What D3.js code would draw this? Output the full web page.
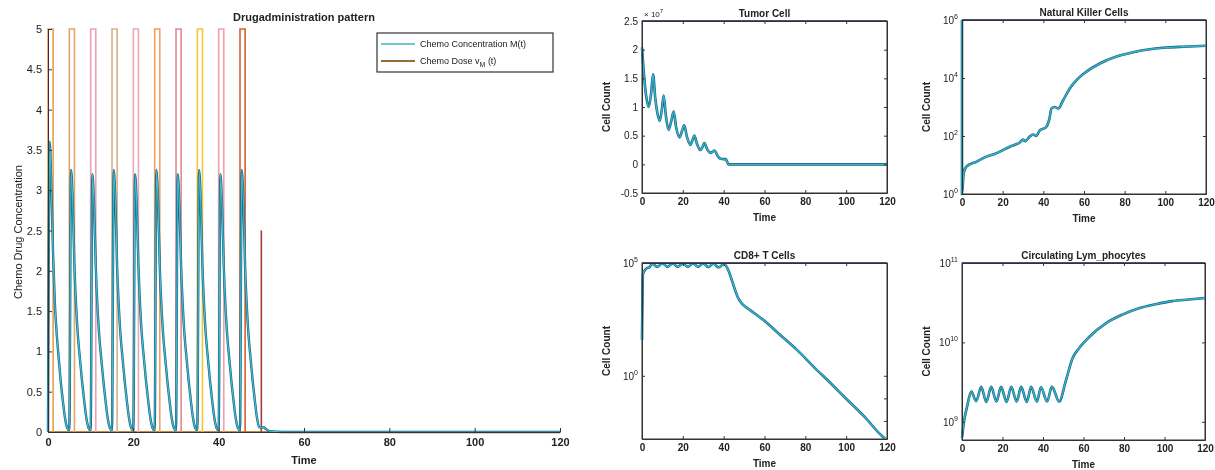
<!DOCTYPE html>
<html>
<head>
<meta charset="utf-8">
<script src="https://cdn.jsdelivr.net/npm/d3@7"></script>
<style>
body { margin: 0; background: #fff; }
text { font-family: "Liberation Sans", Arial, sans-serif; fill: #222; }
</style>
</head>
<body>
<script>
// ---- left panel: drug administration ----
var doseStart = [0, 5, 10, 15, 20, 25, 30, 35, 40, 45, 50];
var doseLevel = [5, 5, 5, 5, 5, 5, 5, 5, 5, 5, 2.5];
var doseWidth = [1.2, 1.2, 1.2, 1.2, 1.2, 1.2, 1.2, 1.2, 1.2, 1.2, 0];
var doseColors = ["#e8a050", "#e0a868", "#ef9fb0", "#d8b088", "#e8aab0",
                  "#f0a060", "#e08a90", "#eec838", "#f0a0a8", "#d8602c", "#a83a3a"];

var concTime = [0, 0.4, 0.8, 1.2, 1.6, 2, 2.5, 3, 3.5, 4, 4.5,
  5, 5.4, 5.8, 6.2, 6.6, 7, 7.5, 8, 8.5, 9, 9.5,
  10, 10.4, 10.8, 11.2, 11.6, 12, 12.5, 13, 13.5, 14, 14.5,
  15, 15.4, 15.8, 16.2, 16.6, 17, 17.5, 18, 18.5, 19, 19.5,
  20, 20.4, 20.8, 21.2, 21.6, 22, 22.5, 23, 23.5, 24, 24.5,
  25, 25.4, 25.8, 26.2, 26.6, 27, 27.5, 28, 28.5, 29, 29.5,
  30, 30.4, 30.8, 31.2, 31.6, 32, 32.5, 33, 33.5, 34, 34.5,
  35, 35.4, 35.8, 36.2, 36.6, 37, 37.5, 38, 38.5, 39, 39.5,
  40, 40.4, 40.8, 41.2, 41.6, 42, 42.5, 43, 43.5, 44, 44.5,
  45, 45.4, 45.8, 46.2, 46.6, 47, 47.5, 48, 48.5, 49, 49.5,
  50, 50.5, 51, 52, 55, 120];
var concValue = [0, 3.6, 3.0, 2.2, 1.6, 1.25, 0.92, 0.62, 0.38, 0.17, 0.05,
  0.02, 3.25, 2.85, 2.05, 1.55, 1.2, 0.9, 0.62, 0.38, 0.17, 0.05,
  0.02, 3.2, 2.8, 2.05, 1.55, 1.2, 0.9, 0.62, 0.38, 0.17, 0.05,
  0.02, 3.25, 2.85, 2.05, 1.55, 1.2, 0.9, 0.62, 0.38, 0.17, 0.05,
  0.02, 3.2, 2.8, 2.05, 1.55, 1.2, 0.9, 0.62, 0.38, 0.17, 0.05,
  0.02, 3.25, 2.85, 2.05, 1.55, 1.2, 0.9, 0.62, 0.38, 0.17, 0.05,
  0.02, 3.2, 2.8, 2.05, 1.55, 1.2, 0.9, 0.62, 0.38, 0.17, 0.05,
  0.02, 3.25, 2.85, 2.05, 1.55, 1.2, 0.9, 0.62, 0.38, 0.17, 0.05,
  0.02, 3.2, 2.8, 2.05, 1.55, 1.2, 0.9, 0.62, 0.38, 0.17, 0.05,
  0.02, 3.25, 2.85, 2.05, 1.55, 1.2, 0.9, 0.62, 0.38, 0.17, 0.06,
  0.05, 0.06, 0.04, 0.01, 0, 0];
var drugYTicks = [0, 0.5, 1, 1.5, 2, 2.5, 3, 3.5, 4, 4.5, 5];
var timeTicks = [0, 20, 40, 60, 80, 100, 120];

// ---- tumor cells (x 10^7) ----
var tumorTime = [0, 1, 2, 3.3, 4.5, 5.4, 6.5, 7.5, 8.7, 9.7, 10.6, 11.7, 13, 14.3, 15.5, 16.7,
  18.4, 19.6, 20.7, 22, 23.7, 24.7, 25.6, 27, 28.6, 29.6, 30.5, 32, 33.5, 34.6, 35.6, 37,
  38.3, 40, 41, 42.4, 60, 80, 100, 120];
var tumorValue = [2.04, 1.55, 1.2, 1.0, 1.25, 1.57, 1.15, 0.9, 0.76, 0.95, 1.2, 0.85, 0.6, 0.75, 0.92, 0.65,
  0.47, 0.58, 0.68, 0.48, 0.34, 0.42, 0.5, 0.35, 0.25, 0.3, 0.37, 0.26, 0.2, 0.22, 0.24, 0.15,
  0.1, 0.09, 0.09, 0, 0, 0, 0, 0];
var tumorYTicks = [-0.5, 0, 0.5, 1, 1.5, 2, 2.5];

// ---- natural killer cells ----
var nkTime = [0, 0, 0.8, 2.1, 7, 12, 16, 18.6, 21, 23.5, 26, 28.4, 30, 31, 33.3, 35, 36.5, 38.3,
  40, 41.5, 43, 44, 45.6, 47.3, 49.8, 53, 56.3, 61.2, 67.8, 76, 84.2, 92.4, 100.7, 108.9, 120];
var nkValue = [1e6, 1, 5.1, 8.7, 12.9, 19.5, 24, 28.8, 35.5, 42.7, 50, 60, 76, 66, 95, 112, 100, 158,
  178, 209, 398, 891, 1000, 891, 1740, 4370, 8510, 16600, 31600, 55000, 77600, 97700, 112000, 120000, 129000];
var nkYTicks = [1, 100, 1e4, 1e6];

// ---- CD8+ T cells ----
var cd8Time = [0, 0.5, 2.1, 3.8, 5, 7.5, 10, 12.5, 15, 17.5, 20, 22.5, 25, 27.5, 30, 32.5, 35, 37.5,
  40, 41, 42.3, 44, 45.6, 47.2, 49.7, 53, 59.5, 67.7, 75.9, 84, 92.3, 100.5, 108.7, 117.7, 119.3];
var cd8Value = [40, 33900, 56200, 66100, 93300, 67600, 95500, 67600, 95500, 67600, 95500, 67600, 95500,
  67600, 95500, 66100, 93300, 63100, 89100, 79400, 47900, 17400, 6310, 2690, 1350, 813, 295, 64.6,
  14.1, 2.57, 0.479, 0.0871, 0.0162, 0.00209, 0.00158];
var cd8YTicks = [1, 1e5];

// ---- circulating lymphocytes ----
var lymTime = [0, 1.1, 2.5, 4.6, 7, 9.5, 12, 14.4, 17, 19.3, 22, 24.3, 27, 29.2, 32, 34.1, 37, 39,
  42, 44.4, 48, 51.3, 54.6, 57.9, 62.8, 71, 79.2, 87.4, 95.6, 103.8, 112, 120];
var lymValue = [6.31e8, 1.05e9, 1.55e9, 2.4e9, 1.82e9, 2.75e9, 1.78e9, 2.75e9, 1.8e9, 2.75e9, 1.78e9,
  2.75e9, 1.8e9, 2.75e9, 1.78e9, 2.75e9, 1.8e9, 2.72e9, 1.8e9, 2.75e9, 1.8e9, 3.31e9, 6.31e9, 8.51e9,
  1.17e10, 1.74e10, 2.24e10, 2.69e10, 3.02e10, 3.31e10, 3.47e10, 3.63e10];
var lymYTicks = [1e9, 1e10, 1e11];

var svg = d3.select("body").append("svg")
  .attr("width", 1215).attr("height", 470);
svg.append("defs").append("filter").attr("id", "soft")
  .attr("filterUnits", "userSpaceOnUse")
  .attr("x", 0).attr("y", 0).attr("width", 1215).attr("height", 470)
  .append("feGaussianBlur").attr("stdDeviation", 0.6);
var root = svg.append("g").attr("filter", "url(#soft)");
root.append("rect").attr("width", 1215).attr("height", 470).attr("fill", "#fff");

function plainNum(d) { return String(d); }

function styleAxis(g) {
  g.select(".domain").attr("stroke", "#333");
  g.selectAll(".tick line").attr("stroke", "#333");
  g.selectAll("text").attr("font-size", 10).attr("fill", "#222");
}

function powLabel(g, fontSize) {
  g.selectAll(".tick text").each(function(d) {
    var t = d3.select(this);
    var e = Math.round(Math.log10(d));
    t.text("10");
    t.append("tspan").attr("dy", -5).attr("font-size", fontSize - 3).text(e);
  });
}

// ================= left panel =================
var dx = d3.scaleLinear().domain([0, 120]).range([48, 560]);
var dy = d3.scaleLinear().domain([0, 5]).range([432, 29]);
var left = root.append("g");

// dose zero level along the whole time span
left.append("path")
  .attr("d", d3.line()([[dx(0), dy(0)], [dx(120), dy(0)]]))
  .attr("stroke", "#c08a40").attr("stroke-width", 2).attr("fill", "none");

// dose pulses
doseStart.forEach(function(t, i) {
  var pts = [[t, 0], [t, doseLevel[i]], [t + doseWidth[i], doseLevel[i]], [t + doseWidth[i], 0]];
  left.append("path")
    .attr("d", d3.line().x(function(p) { return dx(p[0]); }).y(function(p) { return dy(p[1]); })(pts))
    .attr("fill", "none").attr("stroke", doseColors[i]).attr("stroke-width", 1.6);
});

// chemo concentration
var concLine = d3.line()
  .x(function(d, i) { return dx(concTime[i]); })
  .y(function(d) { return dy(d); })
  .curve(d3.curveMonotoneX);
left.append("path").attr("d", concLine(concValue))
  .attr("fill", "none").attr("stroke", "#1d5f86").attr("stroke-width", 2.4);
left.append("path").attr("d", concLine(concValue))
  .attr("fill", "none").attr("stroke", "#3cc0cc").attr("stroke-width", 1.2);

var lx = left.append("g").attr("transform", "translate(0," + dy(0) + ")")
  .call(d3.axisBottom(dx).tickValues(timeTicks).tickSizeInner(-4).tickSizeOuter(0).tickPadding(6));
styleAxis(lx);
lx.selectAll("text").attr("font-size", 11).attr("font-weight", "bold").attr("fill", "#333");
var ly = left.append("g").attr("transform", "translate(" + dx(0) + ",0)")
  .call(d3.axisLeft(dy).tickValues(drugYTicks).tickSizeInner(-4).tickSizeOuter(0).tickPadding(6)
    .tickFormat(plainNum));
styleAxis(ly);
ly.selectAll("text").attr("font-size", 11).attr("fill", "#333");

left.append("text").attr("x", 304).attr("y", 21).attr("text-anchor", "middle")
  .attr("font-size", 11).attr("font-weight", "bold").text("Drugadministration pattern");
left.append("text").attr("x", 304).attr("y", 464).attr("text-anchor", "middle")
  .attr("font-size", 11).attr("font-weight", "bold").text("Time");
left.append("text").attr("transform", "translate(22,232) rotate(-90)").attr("text-anchor", "middle")
  .attr("font-size", 11).text("Chemo Drug Concentration");

// legend
var leg = left.append("g");
leg.append("rect").attr("x", 377).attr("y", 33).attr("width", 176).attr("height", 39)
  .attr("fill", "#fff").attr("stroke", "#333").attr("stroke-width", 1.2);
leg.append("line").attr("x1", 381).attr("x2", 415).attr("y1", 44).attr("y2", 44)
  .attr("stroke", "#3cb4c4").attr("stroke-width", 1.5);
leg.append("line").attr("x1", 381).attr("x2", 415).attr("y1", 61).attr("y2", 61)
  .attr("stroke", "#9a6a3a").attr("stroke-width", 2);
leg.append("text").attr("x", 420).attr("y", 47).attr("font-size", 9).text("Chemo Concentration  M(t)");
var lt = leg.append("text").attr("x", 420).attr("y", 64).attr("font-size", 9).text("Chemo Dose  v");
lt.append("tspan").attr("dy", 3).attr("font-size", 7).text("M");
lt.append("tspan").attr("dy", -3).text(" (t)");

// ================= small panels =================
function smallPanel(cfg) {
  var g = root.append("g");
  var x = d3.scaleLinear().domain([0, 120]).range([cfg.x0, cfg.x1]);
  var y = cfg.y;
  g.append("rect").attr("x", cfg.x0).attr("y", y.range()[1])
    .attr("width", cfg.x1 - cfg.x0).attr("height", y.range()[0] - y.range()[1])
    .attr("fill", "none").attr("stroke", "#333").attr("stroke-width", 1);
  g.append("line").attr("x1", cfg.x0).attr("x2", cfg.x1)
    .attr("y1", y.range()[1]).attr("y2", y.range()[1])
    .attr("stroke", "#2a3a6a").attr("stroke-width", 1.6);

  var line = d3.line()
    .x(function(d, i) { return x(cfg.t[i]); })
    .y(function(d) { return y(d); })
    .curve(d3.curveMonotoneX);
  var lines = g.append("g");
  lines.append("path").attr("d", line(cfg.v)).attr("fill", "none")
    .attr("stroke", "#1b5e80").attr("stroke-width", 2.6);
  lines.append("path").attr("d", line(cfg.v)).attr("fill", "none")
    .attr("stroke", "#33b6c8").attr("stroke-width", 1.4);

  var ax = g.append("g").attr("transform", "translate(0," + y.range()[0] + ")")
    .call(d3.axisBottom(x).tickValues(timeTicks).tickSizeInner(-3).tickSizeOuter(0).tickPadding(5));
  styleAxis(ax);
  ax.selectAll("text").attr("font-weight", "bold").attr("fill", "#333");
  var axT = g.append("g").attr("transform", "translate(0," + y.range()[1] + ")")
    .call(d3.axisTop(x).tickValues(timeTicks).tickSizeInner(-3).tickSizeOuter(0).tickFormat(""));
  styleAxis(axT);

  var ay = g.append("g").attr("transform", "translate(" + cfg.x0 + ",0)")
    .call(d3.axisLeft(y).tickValues(cfg.yTicks).tickSizeInner(-3).tickSizeOuter(0).tickPadding(4)
      .tickFormat(cfg.log ? null : plainNum));
  styleAxis(ay);
  if (cfg.log) powLabel(ay, 10);
  ay.selectAll("text").attr("fill", "#333");
  var ayR = g.append("g").attr("transform", "translate(" + cfg.x1 + ",0)")
    .call(d3.axisRight(y).tickValues(cfg.rTicks || cfg.yTicks).tickSizeInner(-3).tickSizeOuter(0).tickFormat(""));
  styleAxis(ayR);

  var cx = (cfg.x0 + cfg.x1) / 2;
  var top = y.range()[1], bot = y.range()[0];
  g.append("text").attr("x", cx).attr("y", top - 4).attr("text-anchor", "middle")
    .attr("font-size", 10).attr("font-weight", "bold").text(cfg.title);
  g.append("text").attr("x", cx).attr("y", bot + 28).attr("text-anchor", "middle")
    .attr("font-size", 10).attr("font-weight", "bold").text("Time");
  g.append("text").attr("transform", "translate(" + (cfg.x0 - 32) + "," + ((top + bot) / 2) + ") rotate(-90)")
    .attr("text-anchor", "middle").attr("font-size", 10).attr("font-weight", "bold").text("Cell Count");
  return g;
}

var tg = smallPanel({
  x0: 642, x1: 887,
  y: d3.scaleLinear().domain([-0.5, 2.5]).range([193, 21]),
  t: tumorTime, v: tumorValue, yTicks: tumorYTicks, title: "Tumor Cell"
});
var tx = tg.append("text").attr("x", 644).attr("y", 17).attr("font-size", 8).text("\u00d7 10");
tx.append("tspan").attr("dy", -4).attr("font-size", 6).text("7");

smallPanel({
  x0: 962, x1: 1206,
  y: d3.scaleLog().domain([1, 1e6]).range([194, 20]),
  t: nkTime, v: nkValue, yTicks: nkYTicks, log: true, title: "Natural Killer Cells"
});

smallPanel({
  x0: 642, x1: 887,
  y: d3.scaleLog().domain([0.00158, 1e5]).range([439, 263]),
  t: cd8Time, v: cd8Value, yTicks: cd8YTicks, rTicks: [0.01, 0.1, 1, 1e5],
  log: true, title: "CD8+ T Cells"
});

smallPanel({
  x0: 962, x1: 1205,
  y: d3.scaleLog().domain([5.9e8, 1e11]).range([440, 263]),
  t: lymTime, v: lymValue, yTicks: lymYTicks, log: true, title: "Circulating Lym_phocytes"
});
</script>
</body>
</html>
